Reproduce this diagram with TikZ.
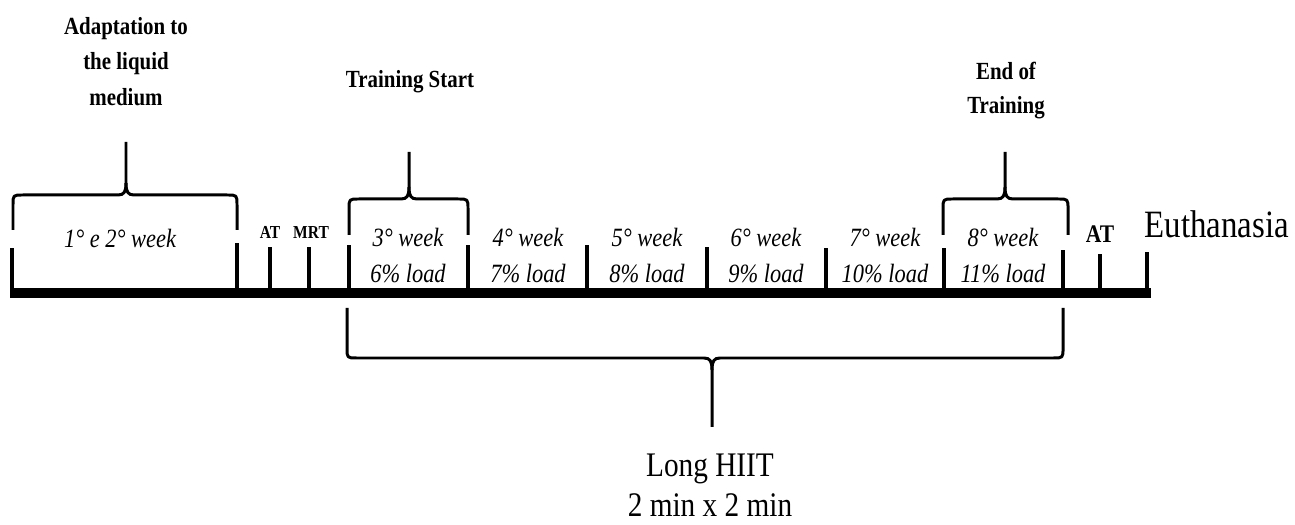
\documentclass[tikz,border=0pt]{standalone}
\usepackage{fontspec}
\setmainfont{Liberation Serif}[FakeStretch=0.85]
\usepackage{tikz}

\begin{document}
\begin{tikzpicture}[x=0.01cm, y=-0.01cm,
    hdr/.style={font=\bfseries\fontsize{7}{9.8}\selectfont, align=center, inner sep=0pt},
    wk/.style={font=\itshape\fontsize{7.5}{10}\selectfont, align=center, inner sep=0pt},
    big/.style={font=\fontsize{9.8}{11.4}\selectfont, align=center, inner sep=0pt},
    tick/.style={line width=1.15pt},
    brc/.style={line width=0.85pt, line join=round}]

\useasboundingbox (0,0) rectangle (1295,525);

% ── Timeline ──────────────────────────────────────────────────────
\draw[line width=2.6pt] (10,293) -- (1151,293);
\foreach \x/\t in {12/248, 237/243, 270/247, 309/247, 349/245, 468/245, 587/245,
                   707/247, 826/248, 944/248, 1063/250, 1100/254, 1147/252} {
    \draw[tick] (\x,293) -- (\x,\t);
}

% ── Braces (s=1 opens down, s=-1 opens up) ───────────────────────
\foreach \xl/\xr/\xm/\yb/\yh/\yt/\s in {13/237/126/230/195/142/1,
                                         349/468/409/235/199/152/1,
                                         943/1068/1005/235/199/152/1,
                                         347/1063/712/308/358/427/-1} {
    \draw[brc] (\xl,\yb) -- ({\xl},{\yh+10*\s}) .. controls ({\xl},{\yh}) .. ({\xl+10},{\yh})
        -- ({\xm-8},{\yh}) .. controls ({\xm-2},{\yh}) and ({\xm},{\yh-3*\s}) .. ({\xm},{\yh-12*\s})
        -- (\xm,\yt);
    \draw[brc] (\xr,\yb) -- ({\xr},{\yh+10*\s}) .. controls ({\xr},{\yh}) .. ({\xr-10},{\yh})
        -- ({\xm+8},{\yh}) .. controls ({\xm+2},{\yh}) and ({\xm},{\yh-3*\s}) .. ({\xm},{\yh-12*\s});
}

% ── Headers ──────────────────────────────────────────────────────
\node[hdr, anchor=north, font=\bfseries\fontsize{7}{10}\selectfont] (adapt) at (126,17)
    {Adaptation to\\the liquid\\medium};
\node[hdr, anchor=base] (tstart) at (410,88) {Training Start};
\node[hdr, anchor=north] (tend) at (1006,61) {End of\\Training};

% ── Week labels ──────────────────────────────────────────────────
\node[wk, anchor=base] (wk12) at (120,248) {1° e 2° week};
\foreach \i/\x/\p in {3/408/6, 4/528/7, 5/647/8, 6/766/9, 7/885/10, 8/1003/11} {
    \node[wk, anchor=north] (wk\i) at (\x,228) {\i° week\\\p\% load};
}

% ── Test points ──────────────────────────────────────────────────
\node[inner sep=0pt, anchor=base, font=\bfseries\fontsize{5.2}{6}\selectfont] (at1) at (270,239) {AT};
\node[inner sep=0pt, anchor=base, font=\bfseries\fontsize{5.2}{6}\selectfont] (mrt) at (311,239) {MRT};
\node[inner sep=0pt, anchor=base, font=\bfseries\fontsize{7.2}{8}\selectfont] (at2) at (1100,243) {AT};
\node[inner sep=0pt, anchor=base west, font=\fontsize{11}{12}\selectfont] (euth) at (1144,238) {Euthanasia};

% ── Protocol ─────────────────────────────────────────────────────
\node[big, anchor=north] (hiit) at (710,453) {Long HIIT\\2 min x 2 min};

\end{tikzpicture}
\end{document}
